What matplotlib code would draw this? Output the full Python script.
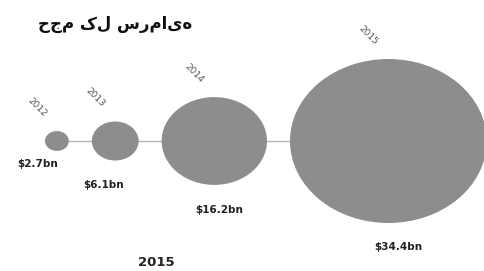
import matplotlib.pyplot as plt
from matplotlib.patches import Ellipse

years = ['2012', '2013', '2014', '2015']
values = [2.7, 6.1, 16.2, 34.4]
value_labels = ['$2.7bn', '$6.1bn', '$16.2bn', '$34.4bn']
title = 'حجم کل سرمایه'
footer = '2015'

plt.rcParams['font.family'] = ['DejaVu Sans']

fig = plt.figure(figsize=(4.85, 2.71), dpi=100)
ax = fig.add_axes([0, 0, 1, 1])
ax.set_xlim(0, 485)
ax.set_ylim(271, 0)
ax.axis('off')

# bubble sizes from values, packed left to right on one line
r_max = 82
stretch = 1.2
gap = 23
cy = 141
ry = [r_max * (v / max(values)) ** 0.83 for v in values]
rx = [r * stretch for r in ry]
cx = []
edge = 45
for r in rx:
    cx.append(edge + r)
    edge = edge + 2 * r + gap

ax.plot([cx[0], cx[-1]], [cy, cy], color='#b4b4b4', lw=1, zorder=1)

label_dx = [-19, -12, 5, 10]
label_dy = [13, 24, 25, 24]
for i in range(len(values)):
    ax.add_patch(Ellipse((cx[i], cy), 2 * rx[i], 2 * ry[i],
                         facecolor='#8d8d8d', edgecolor='none', zorder=2))
    ax.text(cx[i] + label_dx[i], cy + ry[i] + label_dy[i], value_labels[i],
            ha='center', va='center', fontsize=7.5, fontweight='bold',
            color='#222222')
    ax.text(cx[i] - 20, cy - ry[i] - 24, years[i], ha='center', va='center',
            fontsize=6.5, rotation=-45, color='#555555')

ax.text(115, 24, title, ha='center', va='center', fontsize=12,
        fontweight='bold', color='#111111')
ax.text(156, 262, footer, ha='center', va='center', fontsize=9.5,
        fontweight='bold', color='#222222')

fig.savefig('out.png', dpi=100)
